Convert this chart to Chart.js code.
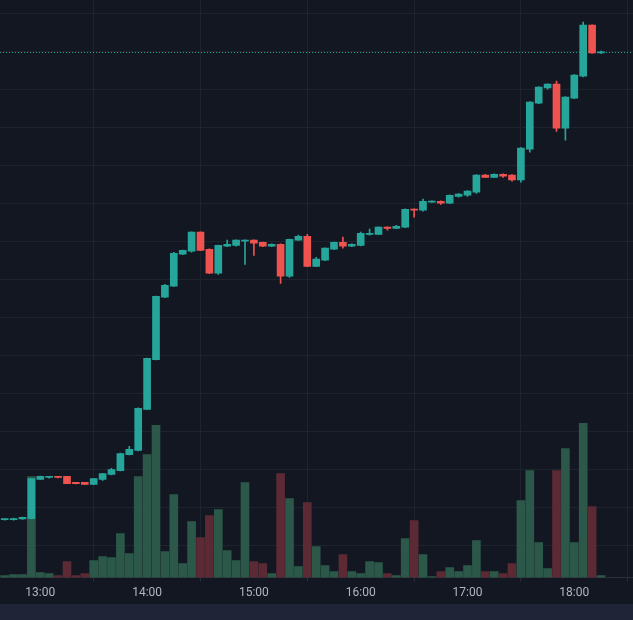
<!DOCTYPE html>
<html lang="en">
<head>
    <meta charset="UTF-8">
    <title>Candles</title>
    <script src="https://cdn.jsdelivr.net/npm/chart.js"></script>
    <style>
        html, body { margin: 0; padding: 0; background: #131722; }
        #wrap { width: 633px; height: 604px; position: relative; }
        #strip { width: 633px; height: 16px; background: #1f2536; }
    </style>
</head>
<body>
    <div id="wrap"><canvas id="chart"></canvas></div>
    <div id="strip"></div>
    <script>
        // 5 minute candles
        const times = ['12:40','12:45','12:50','12:55',
            '13:00','13:05','13:10','13:15','13:20','13:25','13:30','13:35','13:40','13:45','13:50','13:55',
            '14:00','14:05','14:10','14:15','14:20','14:25','14:30','14:35','14:40','14:45','14:50','14:55',
            '15:00','15:05','15:10','15:15','15:20','15:25','15:30','15:35','15:40','15:45','15:50','15:55',
            '16:00','16:05','16:10','16:15','16:20','16:25','16:30','16:35','16:40','16:45','16:50','16:55',
            '17:00','17:05','17:10','17:15','17:20','17:25','17:30','17:35','17:40','17:45','17:50','17:55',
            '18:00','18:05','18:10','18:15'];
        const opens = [100.68,100.68,100.70,100.71,
            101.74,101.79,101.82,101.82,101.66,101.66,101.61,101.74,101.87,101.97,102.39,102.50,
            103.58,104.89,106.53,106.82,107.66,107.74,108.24,107.79,107.16,107.87,107.89,108.00,
            108.03,107.97,107.87,107.92,107.08,108.03,108.13,107.34,107.50,107.79,107.97,107.87,
            107.89,108.18,108.18,108.37,108.34,108.37,108.84,108.82,109.03,109.05,109.00,109.18,
            109.21,109.29,109.74,109.68,109.76,109.74,109.61,110.42,111.63,112.03,112.13,110.97,
            111.76,112.34,113.68,112.95];
        const highs = [100.70,100.72,100.75,101.77,
            101.83,101.82,101.82,101.82,101.66,101.66,101.76,101.90,102.03,102.43,102.61,103.62,
            104.93,106.56,106.87,107.71,107.77,108.25,108.25,107.80,107.90,108.03,108.04,108.04,
            108.04,107.98,107.93,107.93,108.06,108.16,108.18,107.58,107.83,107.98,108.11,107.93,
            108.24,108.32,108.38,108.38,108.42,108.85,108.85,109.11,109.06,109.06,109.22,109.25,
            109.33,109.75,109.76,109.77,109.77,109.75,110.46,111.67,112.06,112.14,112.21,111.80,
            112.38,113.76,113.69,113.00];
        const lows = [100.67,100.67,100.69,100.70,
            101.73,101.77,101.78,101.63,101.62,101.60,101.60,101.71,101.86,101.96,102.38,102.49,
            103.57,104.88,106.52,106.81,107.65,107.71,107.75,107.15,107.13,107.86,107.87,107.39,
            107.63,107.86,107.86,106.89,107.05,108.02,107.33,107.33,107.49,107.78,107.82,107.86,
            107.88,108.16,108.17,108.29,108.33,108.36,108.63,108.79,109.02,108.97,108.99,109.16,
            109.18,109.26,109.67,109.67,109.68,109.58,109.55,110.34,111.62,112.00,110.89,110.66,
            111.75,112.32,112.94,112.94];
        const closes = [100.69,100.71,100.74,101.76,
            101.82,101.82,101.79,101.63,101.63,101.61,101.76,101.89,102.00,102.42,102.53,103.61,
            104.92,106.55,106.84,107.68,107.76,108.24,107.76,107.16,107.89,107.92,108.03,108.03,
            107.95,107.87,107.92,107.08,108.05,108.13,107.34,107.53,107.82,107.97,107.87,107.92,
            108.21,108.21,108.37,108.34,108.39,108.84,108.82,109.05,109.05,109.00,109.21,109.24,
            109.32,109.74,109.68,109.76,109.71,109.61,110.45,111.66,112.05,112.13,110.97,111.79,
            112.37,113.68,112.95,112.97];
        const volumes = [20,30,30,1010,
            50,40,20,160,20,40,170,210,200,440,240,1010,
            1230,1520,260,830,140,560,400,620,680,270,170,950,
            160,140,40,1040,790,110,750,310,120,60,230,60,
            40,160,150,40,20,390,570,230,10,60,100,60,
            120,370,60,60,40,140,770,1070,350,90,1070,1290,
            350,1540,710,20];

        const UP = '#26a69a', DOWN = '#ef5350';
        const VOL_UP = '#2b5848', VOL_DOWN = '#5b2a35';

        function toMin(t) {
            let p = t.split(':');
            return +p[0] * 60 + +p[1];
        }
        const xs = times.map(toMin);
        const isUp = closes.map((c, i) => c >= opens[i]);

        const lastPriceLine = {
            id: 'lastPrice',
            beforeDatasetsDraw(chart) {
                let { ctx, chartArea, scales } = chart;
                let y = Math.round(scales.y.getPixelForValue(closes[closes.length - 1])) + 0.5;
                ctx.save();
                ctx.strokeStyle = UP;
                ctx.lineWidth = 1;
                ctx.setLineDash([1, 2]);
                ctx.beginPath();
                ctx.moveTo(chartArea.left, y);
                ctx.lineTo(chartArea.right, y);
                ctx.stroke();
                ctx.restore();
            }
        };

        new Chart(document.getElementById('chart'), {
            type: 'bar',
            data: {
                datasets: [
                    {
                        label: 'body',
                        data: xs.map((x, i) => ({ x: x, y: [opens[i], closes[i]] })),
                        backgroundColor: isUp.map(u => u ? UP : DOWN),
                        barThickness: 7,
                        minBarLength: 1,
                        grouped: false,
                        yAxisID: 'y',
                        order: 0
                    },
                    {
                        label: 'wick',
                        data: xs.map((x, i) => ({ x: x, y: [lows[i], highs[i]] })),
                        backgroundColor: isUp.map(u => u ? UP : DOWN),
                        barThickness: 1,
                        grouped: false,
                        yAxisID: 'y',
                        order: 1
                    },
                    {
                        label: 'volume',
                        data: xs.map((x, i) => ({ x: x, y: volumes[i] })),
                        backgroundColor: isUp.map(u => u ? VOL_UP : VOL_DOWN),
                        barThickness: 8,
                        grouped: false,
                        yAxisID: 'v',
                        order: 2
                    }
                ]
            },
            options: {
                responsive: true,
                maintainAspectRatio: false,
                animation: false,
                layout: { padding: 0 },
                plugins: { legend: { display: false }, tooltip: { enabled: false } },
                scales: {
                    x: {
                        type: 'linear',
                        offset: false,
                        min: 757.36,
                        max: 1112.98,
                        grid: { color: '#1f232e', tickColor: '#2a2e39', tickLength: 4 },
                        border: { color: '#2a2e39' },
                        ticks: {
                            stepSize: 60,
                            includeBounds: false,
                            maxRotation: 0,
                            padding: 4,
                            color: '#b2b5be',
                            font: { family: 'Roboto, Arial, sans-serif', size: 12 },
                            callback: v => Math.floor(v / 60) + ':' + String(v % 60).padStart(2, '0')
                        }
                    },
                    y: {
                        position: 'right',
                        min: 99.158,
                        max: 114.342,
                        grid: { color: '#1f232e', drawTicks: false },
                        border: { display: false },
                        ticks: { display: false, stepSize: 1, includeBounds: false }
                    },
                    v: {
                        display: false,
                        min: 0,
                        max: 5770
                    }
                }
            },
            plugins: [lastPriceLine]
        });
    </script>
</body>
</html>
